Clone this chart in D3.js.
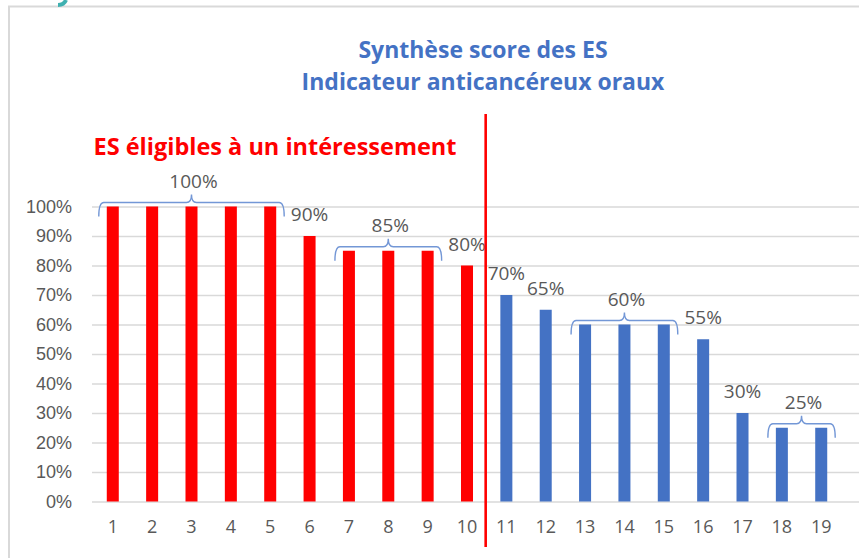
<!DOCTYPE html>
<html>
<head>
<meta charset="utf-8">
<script src="https://cdn.jsdelivr.net/npm/d3@7"></script>
<style>
    body { margin: 0; background: #ffffff; }
    svg  { display: block; font-family: "Open Sans", sans-serif; }
</style>
</head>
<body>
<svg id="chart" width="859" height="558"></svg>
<script>
// data
const categories   = ["1","2","3","4","5","6","7","8","9","10","11","12","13","14","15","16","17","18","19"];
const scores       = [100,100,100,100,100,90,85,85,85,80,70,65,60,60,60,55,30,25,25];
const eligibleLast = "10";   // bars up to here are red
const yTicks       = [0,10,20,30,40,50,60,70,80,90,100];

// single labels (one bar) and grouped labels (brace over several bars)
const singleLabels = [["6","90%"],["10","80%"],["11","70%"],["12","65%"],["16","55%"],["17","30%"]];
const groupLabels  = [["1","5","100%"],["7","9","85%"],["13","15","60%"],["18","19","25%"]];

const titleLines   = ["Synthèse score des ES", "Indicateur anticancéreux oraux"];
const eligibleText = "ES éligibles à un intéressement";

const red   = "#ff0000";
const blue  = "#4472c4";
const grey  = "#595959";
const grid  = "#d9d9d9";

const svg = d3.select("#chart");

const margin = { top: 206.5, bottom: 56.5, left: 93, right: 18 };
const width  = +svg.attr("width");
const height = +svg.attr("height");

const x = d3.scaleBand()
    .domain(categories)
    .range([margin.left, width - margin.right])
    .paddingInner(0.695)
    .paddingOuter(0.35);

const y = d3.scaleLinear()
    .domain([0, 100])
    .range([height - margin.bottom, margin.top]);

// outer frame of the slide picture
svg.append("path")
    .attr("d", `M9,${height + 2} L9,6.5 L${width + 2},6.5`)
    .attr("fill", "none")
    .attr("stroke", grid)
    .attr("stroke-width", 2);

// cut-off stroke of the slide above the picture
svg.append("path")
    .attr("d", "M58,5 Q64,5 66,0")
    .attr("fill", "none")
    .attr("stroke", "#3fb0b0")
    .attr("stroke-width", 4);

// y grid + labels
const axisY = d3.axisLeft(y)
    .tickValues(yTicks)
    .tickSize(-(width - margin.right - margin.left + 20))
    .tickPadding(20)
    .tickFormat(d => d + "%");

svg.append("g")
    .attr("transform", `translate(${margin.left - 1},0)`)
    .call(axisY)
    .call(g => g.select(".domain").remove())
    .call(g => g.selectAll("line").attr("stroke", grid).attr("stroke-width", 1.3).attr("x1", 0))
    .call(g => g.selectAll("text").attr("fill", grey).attr("font-size", 18));

// x labels
const axisX = d3.axisBottom(x).tickSize(0).tickPadding(19);

svg.append("g")
    .attr("transform", `translate(0,${y(0)})`)
    .call(axisX)
    .call(g => g.select(".domain").remove())
    .call(g => g.selectAll("text").attr("fill", grey).attr("font-size", 18).attr("font-family", "Open Sans, sans-serif"));

// bars
const eligibleIndex = categories.indexOf(eligibleLast);

svg.append("g").selectAll("rect")
    .data(categories)
    .join("rect")
    .attr("x",      d => x(d))
    .attr("y",      (d, i) => y(scores[i]))
    .attr("width",  x.bandwidth())
    .attr("height", (d, i) => y(0) - y(scores[i]))
    .attr("fill",   (d, i) => i <= eligibleIndex ? red : blue);

// single value labels
svg.append("g").selectAll("text")
    .data(singleLabels)
    .join("text")
    .attr("x", d => x(d[0]) + x.bandwidth() / 2)
    .attr("y", d => y(scores[categories.indexOf(d[0])]) - 15)
    .attr("text-anchor", "middle")
    .attr("fill", grey)
    .attr("font-size", 19)
    .text(d => d[1]);

// braces over groups of equal bars
function bracePath(x0, x1, yy)
{
    const h  = 14;
    const t  = 8;
    const r  = 5;
    const xm = (x0 + x1) / 2;

    return `M${x0},${yy + h} Q${x0},${yy} ${x0 + r},${yy} L${xm - r},${yy} Q${xm},${yy} ${xm},${yy - t}`
         + ` Q${xm},${yy} ${xm + r},${yy} L${x1 - r},${yy} Q${x1},${yy} ${x1},${yy + h}`;
}

const groups = svg.append("g").selectAll("g")
    .data(groupLabels)
    .join("g");

groups.append("path")
    .attr("d", d =>
    {
        const x0 = x(d[0]) - 8;
        const x1 = x(d[1]) + x.bandwidth() + 8;
        const yy = y(scores[categories.indexOf(d[0])]) - 4;
        return bracePath(x0, x1, yy);
    })
    .attr("fill", "none")
    .attr("stroke", "#7397d6")
    .attr("stroke-width", 1.4);

groups.append("text")
    .attr("x", d => (x(d[0]) + x(d[1]) + x.bandwidth()) / 2 + 2)
    .attr("y", d => y(scores[categories.indexOf(d[0])]) - 19)
    .attr("text-anchor", "middle")
    .attr("fill", grey)
    .attr("font-size", 19)
    .text(d => d[2]);

// red separator between eligible and non eligible
const sepX = (x(eligibleLast) + x.bandwidth() + x(categories[eligibleIndex + 1])) / 2 - 1;

svg.append("line")
    .attr("x1", sepX).attr("x2", sepX)
    .attr("y1", 114).attr("y2", 547)
    .attr("stroke", red)
    .attr("stroke-width", 2.6);

// titles
svg.append("g").selectAll("text")
    .data(titleLines)
    .join("text")
    .attr("x", 483)
    .attr("y", (d, i) => 58 + i * 32)
    .attr("text-anchor", "middle")
    .attr("fill", blue)
    .attr("font-weight", "bold")
    .attr("font-size", 23)
    .text(d => d);

svg.append("text")
    .attr("x", 275)
    .attr("y", 155)
    .attr("text-anchor", "middle")
    .attr("fill", red)
    .attr("font-weight", "bold")
    .attr("font-size", 23.5)
    .text(eligibleText);
</script>
</body>
</html>
